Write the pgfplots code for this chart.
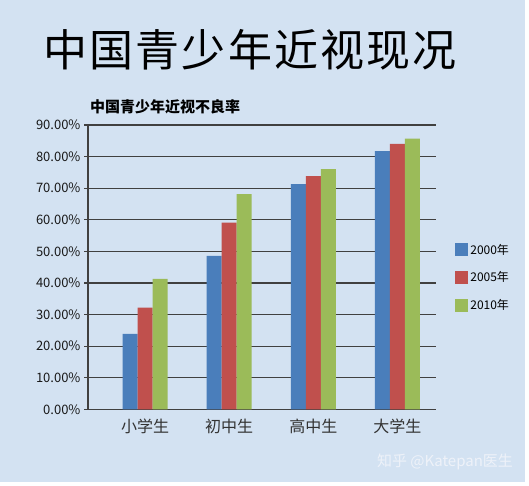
\documentclass[border=0pt]{standalone}
\usepackage{fontspec}
\setmainfont{Noto Sans CJK SC}
\usepackage{pgfplots}
\pgfplotsset{compat=1.18}

\definecolor{bgblue}{RGB}{211,226,242}
\definecolor{axisgray}{RGB}{64,64,64}
\definecolor{bar00}{RGB}{74,126,187}
\definecolor{bar05}{RGB}{192,80,77}
\definecolor{bar10}{RGB}{155,187,89}
\definecolor{mark}{RGB}{238,242,249}

\begin{document}
\begin{tikzpicture}[x=1pt,y=1pt]
  % page and background
  \fill[white] (0,0) rectangle (529,486);
  \fill[bgblue] (0,4) rectangle (525,486);

  \node[font=\fontsize{44}{48}\selectfont\addfontfeature{LetterSpace=5}] at (250,436) {中国青少年近视现况};
  \node[font=\fontsize{15}{18}\selectfont\bfseries] at (165,379) {中国青少年近视不良率};
  \node[font=\fontsize{15}{17}\selectfont, text=mark] at (445,24) {知乎 @Katepan医生};

  \begin{axis}[
      at={(88pt,76.7pt)}, anchor=south west,
      scale only axis,
      width=348pt, height=284.3pt,
      ybar=0pt, bar width=15pt,
      xmin=-0.68, xmax=3.46,
      ymin=0, ymax=90,
      xtick={0,1,2,3},
      xticklabels={小学生,初中生,高中生,大学生},
      xticklabel style={font=\fontsize{16}{18}\selectfont, text=black!80, yshift=-2pt},
      xtick style={draw=none},
      ytick={0,10,...,90},
      yticklabels={0.00\%,10.00\%,20.00\%,30.00\%,40.00\%,50.00\%,60.00\%,70.00\%,80.00\%,90.00\%},
      yticklabel style={font=\fontsize{13}{15}\selectfont, text=black!90},
      ytick style={axisgray, line width=1.2pt},
      tick align=outside, major tick length=4pt,
      axis x line*=bottom, axis y line*=left,
      axis line style={axisgray, line width=1.2pt, -},
      ymajorgrids,
      grid style={axisgray, line width=1.2pt},
      axis background/.style={fill=none},
      legend style={at={(1.055,0.464)}, anchor=west, draw=none, fill=none,
        font=\fontsize{12}{14}\selectfont, row sep=12pt, inner sep=0pt},
      legend cell align=left,
      legend image code/.code={\fill[#1] (0pt,-6.5pt) rectangle (13pt,6.5pt);},
    ]
    \addplot[fill=bar00, draw=none] coordinates {(0,23.9) (1,48.6) (2,71.3) (3,81.7)};
    \addplot[fill=bar05, draw=none] coordinates {(0,32.2) (1,59.1) (2,73.8) (3,84.0)};
    \addplot[fill=bar10, draw=none] coordinates {(0,41.3) (1,68.1) (2,76.0) (3,85.7)};
    \legend{2000年,2005年,2010年}
    \draw[axisgray, line width=1.2pt] (rel axis cs:0,0) -- ++(0pt,-9pt);
  \end{axis}
\end{tikzpicture}
\end{document}
